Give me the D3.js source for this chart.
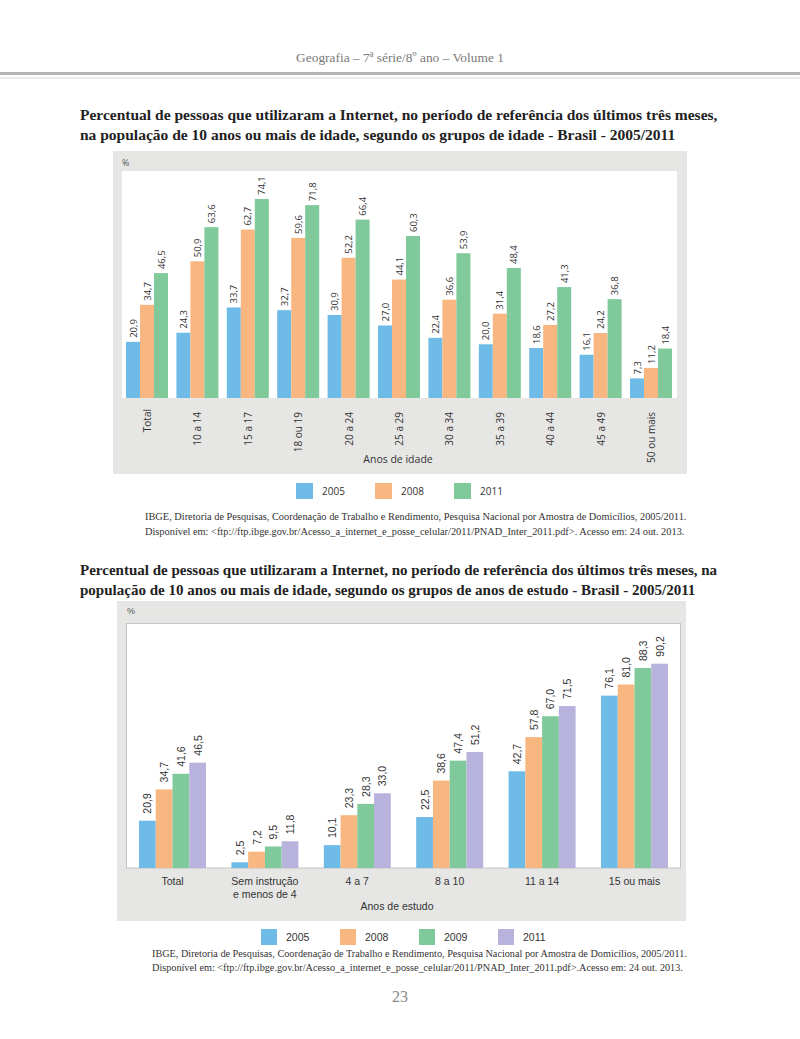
<!DOCTYPE html>
<html>
<head>
<meta charset="utf-8">
<script src="https://cdn.jsdelivr.net/npm/d3@7"></script>
<style>
  body { margin: 0; background: #fff; }
  svg { display: block; }
</style>
</head>
<body>
<div id="page"></div>
<script>
// ---- data ----
var ageGroups = ["Total", "10 a 14", "15 a 17", "18 ou 19", "20 a 24", "25 a 29", "30 a 34", "35 a 39", "40 a 44", "45 a 49", "50 ou mais"]
var ageYears = ["2005", "2008", "2011"]
var age2005 = [20.9, 24.3, 33.7, 32.7, 30.9, 27.0, 22.4, 20.0, 18.6, 16.1, 7.3]
var age2008 = [34.7, 50.9, 62.7, 59.6, 52.2, 44.1, 36.6, 31.4, 27.2, 24.2, 11.2]
var age2011 = [46.5, 63.6, 74.1, 71.8, 66.4, 60.3, 53.9, 48.4, 41.3, 36.8, 18.4]

var studyGroups = ["Total", "Sem instrução\ne menos de 4", "4 a 7", "8 a 10", "11 a 14", "15 ou mais"]
var studyYears = ["2005", "2008", "2009", "2011"]
var study2005 = [20.9, 2.5, 10.1, 22.5, 42.7, 76.1]
var study2008 = [34.7, 7.2, 23.3, 38.6, 57.8, 81.0]
var study2009 = [41.6, 9.5, 28.3, 47.4, 67.0, 88.3]
var study2011 = [46.5, 11.8, 33.0, 51.2, 71.5, 90.2]

var COLORS = {"2005": "#6fbbe8", "2008": "#f8b781", "2009": "#7fc99a", "2011": "#7fc99a"}
var colors1 = ["#6fbbe8", "#f8b781", "#7fc99a"]
var colors2 = ["#6fbbe8", "#f8b781", "#7fc99a", "#b7b3dc"]

var W = 800, H = 1039
var SERIF = "'Liberation Serif', 'DejaVu Serif', serif"
var SANS1 = "'Open Sans', 'Noto Sans', sans-serif"
var SANS2 = "'Liberation Sans', Arial, sans-serif"

var svg = d3.select('#page').append('svg')
  .attr('width', W)
  .attr('height', H)

svg.append('rect').attr('width', W).attr('height', H).attr('fill', '#fff')

// scale font of first line so it spans targetWidth, apply same size to the rest
function fitLines(sel, targetWidth) {
  var first = sel.nodes()[0]
  var base = parseFloat(d3.select(first).attr('font-size'))
  var w = first.getComputedTextLength()
  var size = base * targetWidth / w
  sel.attr('font-size', size)
}

// ---- page header ----
var header = svg.append('text')
  .attr('x', 400).attr('y', 62)
  .attr('text-anchor', 'middle')
  .attr('font-family', SERIF)
  .attr('font-size', 13)
  .attr('fill', '#7a7a7a')
  .text('Geografia – 7ª série/8º ano – Volume 1')
fitLines(header, 208)

svg.append('rect').attr('x', 0).attr('y', 72).attr('width', W).attr('height', 3).attr('fill', '#b4b4b4')
svg.append('rect').attr('x', 0).attr('y', 77.5).attr('width', W).attr('height', 1).attr('fill', '#d6d6d6')

// ---- titles and sources ----
function textBlock(lines, x, ys, opts) {
  var g = svg.append('g')
  var sel = g.selectAll('text').data(lines).enter().append('text')
    .attr('x', x)
    .attr('y', function(d, i) { return ys[i] })
    .attr('font-family', SERIF)
    .attr('font-weight', opts.bold ? 'bold' : 'normal')
    .attr('font-size', opts.size)
    .attr('fill', opts.color)
    .text(function(d) { return d })
  fitLines(sel, opts.width)
  return sel
}

textBlock([
  'Percentual de pessoas que utilizaram a Internet, no período de referência dos últimos três meses,',
  'na população de 10 anos ou mais de idade, segundo os grupos de idade - Brasil - 2005/2011'
], 80, [120, 140], {bold: true, size: 15.5, color: '#222', width: 638})

textBlock([
  'IBGE, Diretoria de Pesquisas, Coordenação de Trabalho e Rendimento, Pesquisa Nacional por Amostra de Domicílios, 2005/2011.',
  'Disponível em: <ftp://ftp.ibge.gov.br/Acesso_a_internet_e_posse_celular/2011/PNAD_Inter_2011.pdf>. Acesso em: 24 out. 2013.'
], 145, [520, 535], {bold: false, size: 10.5, color: '#333', width: 542})

textBlock([
  'Percentual de pessoas que utilizaram a Internet, no período de referência dos últimos três meses, na',
  'população de 10 anos ou mais de idade, segundo os grupos de anos de estudo - Brasil - 2005/2011'
], 80, [575, 595], {bold: true, size: 15.5, color: '#222', width: 638})

textBlock([
  'IBGE, Diretoria de Pesquisas, Coordenação de Trabalho e Rendimento, Pesquisa Nacional por Amostra de Domicílios, 2005/2011.',
  'Disponível em: <ftp://ftp.ibge.gov.br/Acesso_a_internet_e_posse_celular/2011/PNAD_Inter_2011.pdf>.Acesso em: 24 out. 2013.'
], 152, [957, 971], {bold: false, size: 10.5, color: '#333', width: 535})

svg.append('text')
  .attr('x', 400).attr('y', 1002)
  .attr('text-anchor', 'middle')
  .attr('font-family', SERIF)
  .attr('font-size', 16)
  .attr('fill', '#8a8a8a')
  .text('23')

/*** CHART 1: grupos de idade ***/
var c1 = svg.append('g').attr('class', 'chart1')
c1.append('rect').attr('x', 113).attr('y', 151).attr('width', 574).attr('height', 323).attr('fill', '#e6e6e5')
c1.append('rect').attr('x', 122).attr('y', 171).attr('width', 555).attr('height', 227).attr('fill', '#fff')
c1.append('text').attr('x', 122).attr('y', 166)
  .attr('font-family', SANS1).attr('font-size', 9).attr('fill', '#555').text('%')

var series1 = [age2005, age2008, age2011]
var x1 = d3.scaleBand().domain(ageGroups).range([121.8, 676.2]).paddingInner(1 / 6).paddingOuter(1 / 12)
var x1Sub = d3.scaleBand().domain(ageYears).range([0, x1.bandwidth()])
var y1 = d3.scaleLinear().domain([0, 100]).range([398, 398 - 268.6])

var g1 = c1.selectAll('.grp').data(ageGroups).enter().append('g')
  .attr('transform', function(d) { return 'translate(' + x1(d) + ',0)' })

ageYears.forEach(function(yr, k) {
  g1.append('rect')
    .attr('x', x1Sub(yr))
    .attr('y', function(d, i) { return y1(series1[k][i]) })
    .attr('width', x1Sub.bandwidth())
    .attr('height', function(d, i) { return y1(0) - y1(series1[k][i]) })
    .attr('fill', colors1[k])
  g1.append('text')
    .attr('transform', function(d, i) {
      return 'translate(' + (x1Sub(yr) + x1Sub.bandwidth() / 2) + ',' + (y1(series1[k][i]) - 4) + ') rotate(-90)'
    })
    .attr('dominant-baseline', 'central')
    .attr('font-family', SANS1).attr('font-size', 9.5).attr('fill', '#333')
    .text(function(d, i) { return series1[k][i].toFixed(1).replace('.', ',') })
})

// x axis labels
c1.selectAll('.xl').data(ageGroups).enter().append('text')
  .attr('transform', function(d) { return 'translate(' + (x1(d) + x1.bandwidth() / 2) + ',' + (d === 'Total' ? 409 : 412) + ') rotate(-90)' })
  .attr('text-anchor', 'end')
  .attr('dominant-baseline', 'central')
  .attr('font-family', SANS1).attr('font-size', 10).attr('fill', '#333')
  .text(function(d) { return d })

c1.append('text').attr('x', 398).attr('y', 463).attr('text-anchor', 'middle')
  .attr('font-family', SANS1).attr('font-size', 10.5).attr('fill', '#333').text('Anos de idade')

// legend
var leg1 = c1.selectAll('.lg').data(ageYears).enter().append('g')
  .attr('transform', function(d, i) { return 'translate(' + (296 + i * 79) + ',483)' })
leg1.append('rect').attr('width', 17).attr('height', 16).attr('fill', function(d, i) { return colors1[i] })
leg1.append('text').attr('x', 26).attr('y', 8).attr('dominant-baseline', 'central')
  .attr('font-family', SANS1).attr('font-size', 10).attr('fill', '#333').text(function(d) { return d })

/*** CHART 2: anos de estudo ***/
var c2 = svg.append('g').attr('class', 'chart2')
c2.append('rect').attr('x', 117).attr('y', 601).attr('width', 569).attr('height', 320).attr('fill', '#e6e6e5')
c2.append('rect').attr('x', 126.5).attr('y', 623.5).attr('width', 554).attr('height', 244.5)
  .attr('fill', '#fff').attr('stroke', '#c4c4c4').attr('stroke-width', 1)
c2.append('text').attr('x', 127).attr('y', 614)
  .attr('font-family', SANS2).attr('font-size', 9).attr('fill', '#555').text('%')

var series2 = [study2005, study2008, study2009, study2011]
var x2 = d3.scaleBand().domain(studyGroups).range([126, 681]).paddingInner(0.275).paddingOuter(0.1408)
var x2Sub = d3.scaleBand().domain(studyYears).range([0, x2.bandwidth()])
var y2 = d3.scaleLinear().domain([0, 100]).range([868, 868 - 226.5])

var g2 = c2.selectAll('.grp').data(studyGroups).enter().append('g')
  .attr('transform', function(d) { return 'translate(' + x2(d) + ',0)' })

studyYears.forEach(function(yr, k) {
  g2.append('rect')
    .attr('x', x2Sub(yr))
    .attr('y', function(d, i) { return y2(series2[k][i]) })
    .attr('width', x2Sub.bandwidth())
    .attr('height', function(d, i) { return y2(0) - y2(series2[k][i]) })
    .attr('fill', colors2[k])
  g2.append('text')
    .attr('transform', function(d, i) {
      return 'translate(' + (x2Sub(yr) + x2Sub.bandwidth() / 2) + ',' + (y2(series2[k][i]) - 7) + ') rotate(-90)'
    })
    .attr('dominant-baseline', 'central')
    .attr('font-family', SANS2).attr('font-size', 10.5).attr('fill', '#333')
    .text(function(d, i) { return series2[k][i].toFixed(1).replace('.', ',') })
})

// x axis labels (multi-line)
var xl2 = c2.selectAll('.xl').data(studyGroups).enter().append('text')
  .attr('x', function(d) { return x2(d) + x2.bandwidth() / 2 })
  .attr('y', 885)
  .attr('text-anchor', 'middle')
  .attr('font-family', SANS2).attr('font-size', 10.5).attr('fill', '#333')
xl2.selectAll('tspan').data(function(d) { return d.split('\n') }).enter().append('tspan')
  .attr('x', function() { return d3.select(this.parentNode).attr('x') })
  .attr('dy', function(d, i) { return i === 0 ? 0 : 12.5 })
  .text(function(d) { return d })

c2.append('text').attr('x', 397).attr('y', 910).attr('text-anchor', 'middle')
  .attr('font-family', SANS2).attr('font-size', 10.5).attr('fill', '#333').text('Anos de estudo')

var leg2 = c2.selectAll('.lg').data(studyYears).enter().append('g')
  .attr('transform', function(d, i) { return 'translate(' + (261 + i * 79) + ',929)' })
leg2.append('rect').attr('width', 16).attr('height', 16).attr('fill', function(d, i) { return colors2[i] })
leg2.append('text').attr('x', 25).attr('y', 8).attr('dominant-baseline', 'central')
  .attr('font-family', SANS2).attr('font-size', 10.5).attr('fill', '#333').text(function(d) { return d })
</script>
</body>
</html>
